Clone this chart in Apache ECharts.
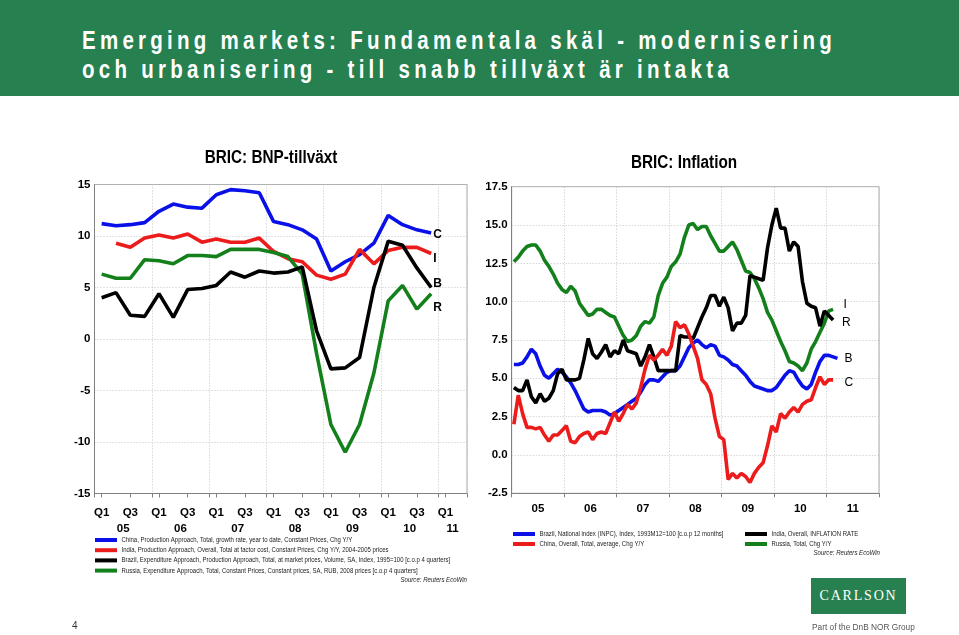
<!DOCTYPE html>
<html>
<head>
<meta charset="utf-8">
<script src="https://cdn.jsdelivr.net/npm/echarts@6/dist/echarts.min.js"></script>
<style>
html,body{margin:0;padding:0;background:#fff;}
#wrap{position:relative;width:959px;height:635px;overflow:hidden;background:#fff;}
#chart{position:absolute;left:0;top:0;width:959px;height:635px;}
#header{position:absolute;left:0;top:0;width:959px;height:96px;background:#27804f;}
.hl{position:absolute;left:82px;color:#fff;font-weight:bold;font-size:25px;line-height:25px;font-family:'Liberation Sans',Arial,sans-serif;letter-spacing:5.2px;white-space:nowrap;transform:scaleX(0.82);transform-origin:0 0;}
#logo{position:absolute;left:811px;top:578px;width:95px;height:36px;background:#27804f;color:#fff;font-family:'Liberation Serif',serif;font-size:14px;letter-spacing:1.8px;line-height:36px;text-align:center;}
#group{position:absolute;left:812px;top:622px;color:#555;font-family:'Liberation Sans',sans-serif;font-size:8.3px;white-space:nowrap;}
#page{position:absolute;left:72px;top:620px;color:#333;font-family:'Liberation Sans',sans-serif;font-size:10px;}
</style>
</head>
<body>
<div id="wrap">
  <div id="chart"></div>
  <div id="header">
    <div class="hl" style="top:28px">Emerging markets: Fundamentala skäl - modernisering</div>
    <div class="hl" style="top:57px">och urbanisering - till snabb tillväxt är intakta</div>
  </div>
  <div id="logo">CARLSON</div>
  <div id="group">Part of the DnB NOR Group</div>
  <div id="page">4</div>
</div>
<script>
// ---------- LEFT: BRIC GDP growth, quarterly from 2005 Q1 ----------
const gdpTickLabels = ['Q1','Q3','Q1','Q3','Q1','Q3','Q1','Q3','Q1','Q3','Q1','Q3','Q1'];
const gdpYearLabels = ['05','06','07','08','09','10','11'];
const chinaGdp  = [11.2,11.0,11.1,11.3,12.4,13.1,12.8,12.7,14.0,14.5,14.4,14.2,11.4,11.1,10.6,9.7,6.6,7.5,8.2,9.3,12.0,11.1,10.6,10.3];
const indiaGdp  = [null,9.3,8.9,9.8,10.1,9.8,10.2,9.4,9.7,9.4,9.4,9.8,8.5,7.8,7.5,6.2,5.8,6.3,8.7,7.3,8.6,8.9,8.9,8.3];
const brazilGdp = [4.0,4.5,2.3,2.2,4.4,2.1,4.8,4.9,5.2,6.5,6.0,6.6,6.4,6.5,7.0,0.8,-2.9,-2.8,-1.8,5.0,9.5,9.1,6.9,5.0];
const russiaGdp = [6.3,5.9,5.9,7.7,7.6,7.3,8.1,8.1,8.0,8.7,8.7,8.7,8.4,8.0,6.3,-1.4,-8.3,-11.0,-8.3,-3.3,3.7,5.2,2.9,4.4];
const gdpNames = [
  'China, Production Approach, Total, growth rate, year to date, Constant Prices, Chg Y/Y',
  'India, Production Approach, Overall, Total at factor cost, Constant Prices, Chg Y/Y, 2004-2005 prices',
  'Brazil, Expenditure Approach, Production Approach, Total, at market prices, Volume, SA, Index, 1995=100 [c.o.p 4 quarters]',
  'Russia, Expenditure Approach, Total, Constant Prices, Constant prices, SA, RUB, 2008 prices [c.o.p 4 quarters]'
];
const gdpTags = ['C','I','B','R'];

// ---------- RIGHT: BRIC inflation, monthly from Jan 2005 ----------
const cpiYearLabels = ['05','06','07','08','09','10','11'];
const brazilCpi = [5.9,5.9,6.0,6.4,6.9,6.6,5.8,5.2,5.0,5.3, 5.6,5.4,5.1,4.7,4.2,3.6,3.0,2.8,2.9,2.9, 2.9,2.8,2.6,2.7,2.9,3.1,3.3,3.5,3.7,4.1, 4.6,4.9,4.9,4.8,5.1,5.4,5.5,5.5,5.8,6.4, 7.0,7.3,7.5,7.2,7.0,7.2,7.1,6.5,6.4,6.2, 5.9,5.8,5.5,5.2,4.8,4.5,4.4,4.3,4.2,4.2, 4.4,4.8,5.2,5.5,5.4,4.9,4.5,4.3,4.6,5.4, 6.1,6.5,6.5,6.4,6.3];
const chinaCpi  = [2.0,3.9,2.7,1.8,1.8,1.7,1.8,1.3,0.9,1.3, 1.3,1.6,1.9,0.9,0.8,1.2,1.4,1.5,1.0,1.4, 1.5,1.4,2.1,2.8,2.2,2.7,3.3,3.0,3.4,4.4, 5.6,6.5,6.2,6.5,6.9,6.5,7.1,8.7,8.3,8.5, 7.9,7.1,6.3,4.9,4.6,4.0,2.4,1.2,1.0,-1.6, -1.2,-1.5,-1.2,-1.4,-1.8,-1.2,-0.8,-0.5,0.6,1.9, 1.5,2.7,2.4,2.8,3.1,2.8,3.3,3.5,3.6,4.4, 5.1,4.6,4.9,4.9];
const indiaCpi  = [4.4,4.2,4.2,4.9,3.8,3.4,4.0,3.5,3.7,4.2, 5.3,5.6,4.9,4.9,4.9,5.0,6.2,7.6,6.6,6.3, 6.7,7.2,6.4,6.8,6.6,7.5,6.8,6.7,6.6,5.8, 6.4,7.2,6.4,5.5,5.5,5.5,5.5,5.5,7.8,7.7, 7.7,7.6,8.3,9.0,9.6,10.4,10.4,9.7,10.3,9.6, 8.1,8.6,8.6,9.1,11.7,11.6,11.5,11.4,13.5,15.0, 16.1,14.8,14.8,13.3,13.9,13.6,11.3,9.9,9.7,9.6, 8.4,9.4,9.1,8.8];
const russiaCpi = [12.6,12.9,13.3,13.6,13.7,13.7,13.3,12.7,12.3,11.8, 11.2,10.8,10.6,11.0,10.7,9.9,9.5,9.1,9.2,9.5, 9.5,9.3,9.1,9.0,8.4,7.8,7.4,7.5,7.8,8.4, 8.7,8.6,9.0,10.4,11.2,11.6,12.3,12.6,13.1,14.2, 15.0,15.1,14.7,14.9,14.9,14.3,13.8,13.3,13.3,13.6, 13.9,13.4,12.7,12.0,11.9,11.5,10.9,10.2,9.3,8.8, 8.1,7.4,6.8,6.1,6.0,5.8,5.5,6.0,6.9,7.4, 8.0,8.6,9.4,9.5];
const cpiNames = [
  'Brazil, National index (INPC), Index, 1993M12=100 [c.o.p 12 months]',
  'China, Overall, Total, average, Chg Y/Y',
  'India, Overall, INFLATION RATE',
  'Russia, Total, Chg Y/Y'
];
const cpiTags = ['B','C','I','R'];

const FONT = "'Liberation Sans',Arial,sans-serif";
const BLUE = '#0a10e8', RED = '#ec1c1c', BLACK = '#000000', GREEN = '#13801b';
const SQ = 0.8; // condensed look of the original typeface

const toXY = arr => arr.map((v, i) => v == null ? null : [i + 0.5, v]).filter(p => p);

const nQ = 26, nM = 84;
const qTickPos = gdpTickLabels.map((_, k) => 2 * k + 0.5);
const qYearPos = gdpYearLabels.map((_, k) => (4 * k + Math.min(4 * k + 4, nQ)) / 2);
const mYearPos = cpiYearLabels.map((_, k) => 12 * k + 6);
const nearest = (arr, pos, v) => arr[pos.reduce((b, p, i) => Math.abs(p - v) < Math.abs(pos[b] - v) ? i : b, 0)];

const axLbl = {fontFamily: FONT, fontWeight: 'bold', fontSize: 11.5, color: '#000'};
const gridLine = {show: true, lineStyle: {type: [1, 2], color: '#c4c4c4', width: 1}};
const axLine = {show: true, onZero: false, lineStyle: {color: '#808080'}};

const chart = echarts.init(document.getElementById('chart'));

function lineSeries(name, data, color, xi, yi, tag, lbl) {
  return {
    name, type: 'line', data, xAxisIndex: xi, yAxisIndex: yi,
    symbol: 'none', showSymbol: false,
    lineStyle: {color, width: 3.6}, itemStyle: {color},
    endLabel: Object.assign({show: true, formatter: tag, color: '#000', fontFamily: FONT, fontSize: 12}, lbl),
    emphasis: {disabled: true}, silent: true
  };
}

// legend drawn as swatch + condensed text
function legendItems(names, colors, x, y0, pitch) {
  const els = [];
  names.forEach((n, i) => {
    const y = y0 + i * pitch;
    els.push({type: 'rect', shape: {x: x, y: y - 2, width: 22, height: 4}, style: {fill: colors[i]}, silent: true});
    els.push({type: 'text', x: x + 26.5, y: y, scaleX: SQ, silent: true,
      style: {text: n, fill: '#222', font: '7.5px ' + FONT, textVerticalAlign: 'middle'}});
  });
  return els;
}
const srcText = (x, y) => ({type: 'text', x, y, scaleX: SQ, silent: true,
  style: {text: 'Source: Reuters EcoWin', fill: '#222', font: 'italic 7.6px ' + FONT, textAlign: 'right', textVerticalAlign: 'middle'}});

const option = {
  animation: false,
  backgroundColor: 'transparent',
  grid: [
    {left: 94.5, top: 184.5, width: 372.5, height: 309, show: true, borderColor: '#a8a8a8', borderWidth: 1, backgroundColor: 'transparent'},
    {left: 511.7, top: 186.7, width: 367.3, height: 306.6, show: true, borderColor: '#a8a8a8', borderWidth: 1, backgroundColor: 'transparent'}
  ],
  xAxis: [
    {gridIndex: 0, type: 'value', min: 0, max: nQ, interval: 4,
     axisLine: axLine, axisTick: {show: true, length: 4, lineStyle: {color: '#808080'}},
     axisLabel: {show: false}, splitLine: gridLine},
    {gridIndex: 0, type: 'value', min: 0, max: nQ, position: 'bottom',
     axisLine: {show: false, onZero: false}, axisTick: {show: true, length: 4, customValues: qTickPos, lineStyle: {color: '#808080'}},
     axisLabel: Object.assign({customValues: qTickPos, margin: 13, formatter: v => nearest(gdpTickLabels, qTickPos, v)}, axLbl),
     splitLine: {show: false}},
    {gridIndex: 0, type: 'value', min: 0, max: nQ, position: 'bottom', offset: 16.5,
     axisLine: {show: false, onZero: false}, axisTick: {show: false},
     axisLabel: Object.assign({customValues: qYearPos, margin: 13, formatter: v => nearest(gdpYearLabels, qYearPos, v)}, axLbl),
     splitLine: {show: false}},
    {gridIndex: 1, type: 'value', min: 0, max: nM, interval: 12,
     axisLine: axLine, axisTick: {show: true, length: 4, lineStyle: {color: '#808080'}},
     axisLabel: {show: false}, splitLine: gridLine},
    {gridIndex: 1, type: 'value', min: 0, max: nM, position: 'bottom',
     axisLine: {show: false, onZero: false}, axisTick: {show: false},
     axisLabel: Object.assign({customValues: mYearPos, margin: 9.5, formatter: v => nearest(cpiYearLabels, mYearPos, v)}, axLbl),
     splitLine: {show: false}}
  ],
  yAxis: [
    {gridIndex: 0, type: 'value', min: -15, max: 15, interval: 5,
     axisLine: axLine, axisTick: {show: false},
     axisLabel: Object.assign({margin: 4}, axLbl), splitLine: gridLine},
    {gridIndex: 1, type: 'value', min: -2.5, max: 17.5, interval: 2.5,
     axisLine: axLine, axisTick: {show: false},
     axisLabel: Object.assign({margin: 4, formatter: v => v.toFixed(1)}, axLbl), splitLine: gridLine}
  ],
  graphic: [
    {type: 'text', x: 271, y: 158, scaleX: 0.85, silent: true, style: {text: 'BRIC: BNP-tillväxt', fill: '#000', font: 'bold 18px ' + FONT, textAlign: 'center', textVerticalAlign: 'middle'}},
    {type: 'text', x: 684, y: 163.5, scaleX: 0.85, silent: true, style: {text: 'BRIC: Inflation', fill: '#000', font: 'bold 18px ' + FONT, textAlign: 'center', textVerticalAlign: 'middle'}},
    ...legendItems(gdpNames, [BLUE, RED, BLACK, GREEN], 95, 540, 10.2),
    ...legendItems(cpiNames.slice(0, 2), [BLUE, RED], 513, 534, 10),
    ...legendItems(cpiNames.slice(2, 4), [BLACK, GREEN], 745, 534, 10),
    srcText(467, 580),
    srcText(880, 553)
  ],
  series: [
    lineSeries(gdpNames[0], toXY(chinaGdp),  BLUE,  0, 0, gdpTags[0], {fontWeight: 'bold', distance: 2, offset: [0, 2]}),
    lineSeries(gdpNames[1], toXY(indiaGdp),  RED,   0, 0, gdpTags[1], {fontWeight: 'bold', distance: 2, offset: [0, 5]}),
    lineSeries(gdpNames[3], toXY(russiaGdp), GREEN, 0, 0, gdpTags[3], {fontWeight: 'bold', distance: 2, offset: [0, 14]}),
    lineSeries(gdpNames[2], toXY(brazilGdp), BLACK, 0, 0, gdpTags[2], {fontWeight: 'bold', distance: 2, offset: [0, -4]}),
    lineSeries(cpiNames[3], toXY(russiaCpi), GREEN, 3, 1, cpiTags[3], {distance: 9, offset: [0, 13.7]}),
    lineSeries(cpiNames[0], toXY(brazilCpi), BLUE,  3, 1, cpiTags[0], {distance: 7, offset: [0, 0.6]}),
    lineSeries(cpiNames[2], toXY(indiaCpi),  BLACK, 3, 1, cpiTags[2], {distance: 10.5, offset: [0, -15.6]}),
    lineSeries(cpiNames[1], toXY(chinaCpi),  RED,   3, 1, cpiTags[1], {distance: 11.5, offset: [0, 2.6]})
  ]
};
chart.setOption(option);
</script>
</body>
</html>
